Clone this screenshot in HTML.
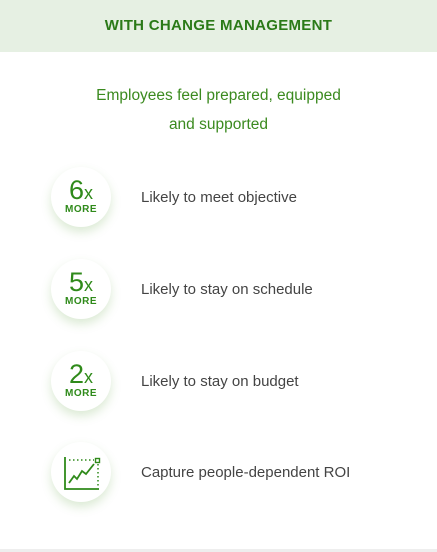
<!DOCTYPE html>
<html><head><style>
body{margin:0;width:437px;height:552px;background:#fff;font-family:"Liberation Sans",sans-serif;position:relative;overflow:hidden}
.hdr{position:absolute;left:0;top:0;width:437px;height:52px;background:#e6f0e3;color:#2b7a18;font-weight:bold;font-size:15px;text-align:center;line-height:52px;letter-spacing:0.3px}
.sub{position:absolute;left:0;top:81px;width:437px;text-align:center;color:#3b8a1f;font-size:15.5px;line-height:29px}
.circ{position:absolute;width:60px;height:60px;border-radius:50%;background:#fff;box-shadow:0 5px 10px rgba(90,160,60,0.22);color:#2f8a1a;text-align:center}
.num{position:absolute;left:0;width:60px;top:9px;font-size:27px;line-height:28px;font-weight:300}
.num span{font-size:18px}
.more{position:absolute;left:0;width:60px;top:37px;font-size:10px;font-weight:bold;letter-spacing:0.5px}
.lbl{position:absolute;left:141px;font-size:15px;color:#444}
.bot{position:absolute;left:0;top:549px;width:437px;height:3px;background:#eee}
</style></head><body>
<div class="hdr">WITH CHANGE MANAGEMENT</div>
<div class="sub">Employees feel prepared, equipped<br>and supported</div>

<div class="circ" style="left:51px;top:167px"><div class="num">6<span>x</span></div><div class="more">MORE</div></div>
<div class="lbl" style="top:189px">Likely to meet objective</div>

<div class="circ" style="left:51px;top:259px"><div class="num">5<span>x</span></div><div class="more">MORE</div></div>
<div class="lbl" style="top:281px">Likely to stay on schedule</div>

<div class="circ" style="left:51px;top:351px"><div class="num">2<span>x</span></div><div class="more">MORE</div></div>
<div class="lbl" style="top:373px">Likely to stay on budget</div>

<div class="circ" style="left:51px;top:442px">
<svg width="60" height="60" viewBox="0 0 60 60">
<polyline points="14,15 14,47 48,47" fill="none" stroke="#2f8a1a" stroke-width="1.8"/>
<line x1="18" y1="18" x2="43" y2="18" stroke="#2f8a1a" stroke-width="1.5" stroke-dasharray="1.5 2.5"/>
<line x1="47" y1="22" x2="47" y2="44" stroke="#2f8a1a" stroke-width="1.5" stroke-dasharray="1.5 2.5"/>
<polyline points="18,41 23,34 26,37 31,29 35,32 43,22" fill="none" stroke="#2f8a1a" stroke-width="1.8"/>
<rect x="44.5" y="16.5" width="4" height="4" fill="none" stroke="#2f8a1a" stroke-width="1.4"/>
</svg></div>
<div class="lbl" style="top:464px">Capture people-dependent ROI</div>
<div class="bot"></div>
</body></html>
